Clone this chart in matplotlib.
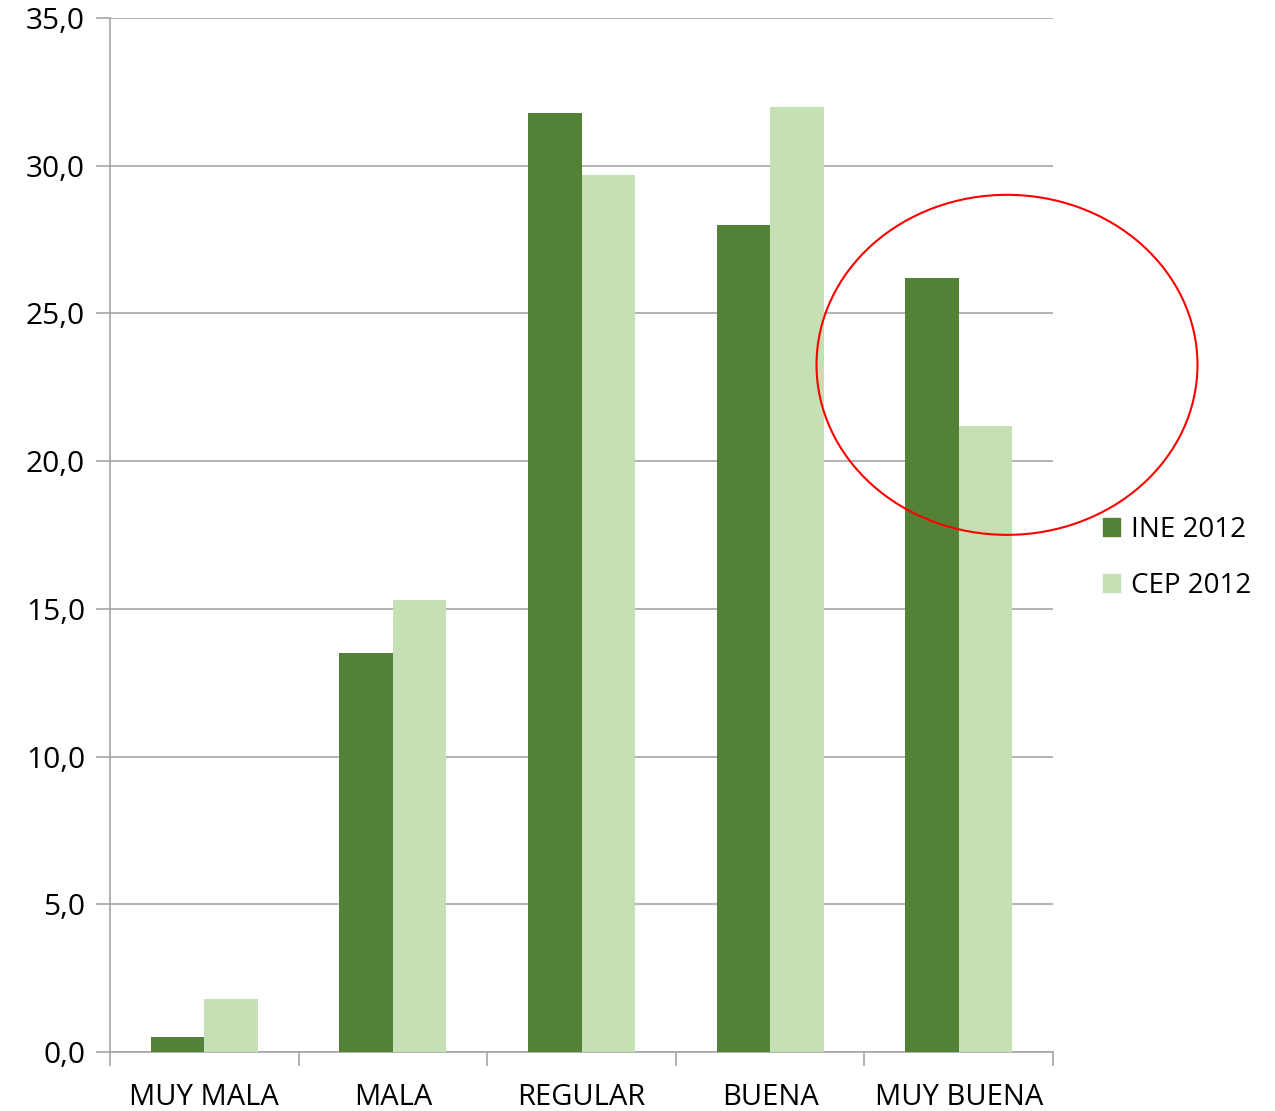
import matplotlib.pyplot as plt
from matplotlib.patches import Ellipse, Patch
import numpy as np

categorias = ['MUY MALA', 'MALA', 'REGULAR', 'BUENA', 'MUY BUENA']
ine_2012 = [0.5, 13.5, 31.8, 28.0, 26.2]
cep_2012 = [1.8, 15.3, 29.7, 32.0, 21.2]
yticks = [0, 5, 10, 15, 20, 25, 30, 35]
ytick_labels = ['0,0', '5,0', '10,0', '15,0', '20,0', '25,0', '30,0', '35,0']

plt.rcParams['font.family'] = ['Open Sans', 'DejaVu Sans']

fig = plt.figure(figsize=(12.75, 11.11), dpi=100)
ax = fig.add_axes([0.0863, 0.0531, 0.7396, 0.9307])

x = np.arange(len(categorias))
w = 0.284
verde = '#538135'
verde_claro = '#c5e0b4'
gris = '#a6a6a6'

ax.bar(x - w / 2, ine_2012, width=w, color=verde, zorder=3)
ax.bar(x + w / 2, cep_2012, width=w, color=verde_claro, zorder=3)

ax.set_xlim(-0.5, 4.5)
ax.set_ylim(0, 35)
ax.set_yticks(yticks)
ax.set_yticklabels(ytick_labels, fontsize=21.5)
ax.yaxis.grid(True, color=gris, linewidth=1.2, zorder=0)

# ticks del eje x entre categorias
ax.set_xticks(np.arange(-0.5, 5, 1))
ax.set_xticklabels([])
ax.set_xticks(x, minor=True)
ax.set_xticklabels(categorias, minor=True, fontsize=21)
ax.tick_params(axis='x', which='major', length=10, color=gris, width=1.2)
ax.tick_params(axis='x', which='minor', length=0, pad=22)
ax.tick_params(axis='y', length=10, color=gris, width=1.2, pad=8)

for s in ['top', 'right']:
    ax.spines[s].set_visible(False)
for s in ['left', 'bottom']:
    ax.spines[s].set_color(gris)
    ax.spines[s].set_linewidth(1.2)

# circulo rojo sobre MUY BUENA
elipse = Ellipse((4.256, 23.26), 2.02, 11.51, fill=False, edgecolor='red',
                 linewidth=1.5, clip_on=False, zorder=5)
ax.add_patch(elipse)

handles = [Patch(color=verde), Patch(color=verde_claro)]
fig.legend(handles, ['INE 2012', 'CEP 2012'], loc='center left',
           bbox_to_anchor=(0.865, 0.498), frameon=False, fontsize=20,
           handlelength=0.6, handleheight=0.6, handletextpad=0.4,
           labelspacing=1.0, borderaxespad=0, borderpad=0)

fig.savefig('out.png', dpi=100)
